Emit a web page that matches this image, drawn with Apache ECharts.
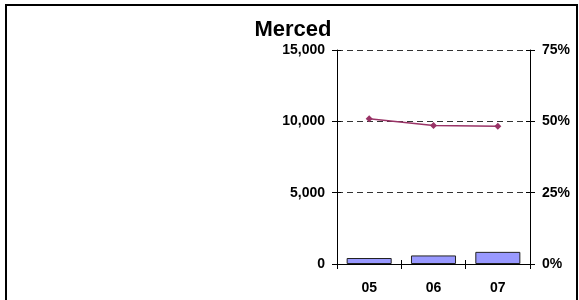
<!DOCTYPE html>
<html lang="en">
<head>
    <meta charset="utf-8">
    <title>Merced</title>
    <script src="https://cdn.jsdelivr.net/npm/echarts@6/dist/echarts.min.js"></script>
    <style>
        html, body { margin: 0; padding: 0; background: #fff; }
        #chart { width: 579px; height: 300px; }
    </style>
</head>
<body>
<div id="chart"></div>
<script>
    // data
    var years = ['05', '06', '07'];
    var countValues = [420, 600, 850];
    var shareValues = [50.9, 48.5, 48.3];

    var leftTicks = { min: 0, max: 15000, interval: 5000 };
    var rightTicks = { min: 0, max: 75, interval: 25 };

    var labelFont = {
        color: '#000',
        fontFamily: 'Liberation Sans, Arial, sans-serif',
        fontWeight: 'bold',
        fontSize: 14
    };

    function fmtCount(v) {
        return v.toLocaleString('en-US');
    }

    var chart = echarts.init(document.getElementById('chart'));
    chart.setOption({
        animation: false,
        title: {
            text: 'Merced',
            left: 288,
            textAlign: 'center',
            top: 14,
            textStyle: {
                color: '#000',
                fontFamily: 'Liberation Sans, Arial, sans-serif',
                fontWeight: 'bold',
                fontSize: 22
            }
        },
        graphic: [{
            type: 'rect',
            shape: { x: 6, y: 5, width: 571, height: 330 },
            style: { fill: 'none', stroke: '#000', lineWidth: 2 },
            silent: true
        }],
        grid: { left: 337, right: 49, top: 50, bottom: 36 },
        xAxis: [{
            type: 'category',
            data: years,
            axisLine: { lineStyle: { color: '#000', width: 1 } },
            axisTick: { show: true, length: 5, lineStyle: { color: '#000' } },
            axisLabel: Object.assign({ margin: 17 }, labelFont)
        }, {
            type: 'category',
            data: years,
            position: 'bottom',
            axisLine: { show: false },
            axisTick: { show: true, inside: true, length: 4, lineStyle: { color: '#000' } },
            axisLabel: { show: false }
        }],
        yAxis: [{
            type: 'value',
            position: 'left',
            min: leftTicks.min,
            max: leftTicks.max,
            interval: leftTicks.interval,
            axisLine: { show: true, lineStyle: { color: '#000', width: 1 } },
            axisTick: { show: true, length: 5, lineStyle: { color: '#000' } },
            axisLabel: Object.assign({ margin: 12, formatter: fmtCount }, labelFont),
            splitLine: { show: true, lineStyle: { color: '#333', type: [6, 4], width: 1 } }
        }, {
            type: 'value',
            position: 'right',
            min: rightTicks.min,
            max: rightTicks.max,
            interval: rightTicks.interval,
            axisLine: { show: true, lineStyle: { color: '#000', width: 1 } },
            axisTick: { show: true, length: 5, lineStyle: { color: '#000' } },
            axisLabel: Object.assign({ margin: 12, formatter: '{value}%' }, labelFont),
            splitLine: { show: false }
        }, {
            type: 'value',
            position: 'left',
            min: leftTicks.min,
            max: leftTicks.max,
            interval: leftTicks.interval,
            axisLine: { show: false },
            axisTick: { show: true, inside: true, length: 4, lineStyle: { color: '#000' } },
            axisLabel: { show: false },
            splitLine: { show: false }
        }, {
            type: 'value',
            position: 'right',
            min: rightTicks.min,
            max: rightTicks.max,
            interval: rightTicks.interval,
            axisLine: { show: false },
            axisTick: { show: true, inside: true, length: 4, lineStyle: { color: '#000' } },
            axisLabel: { show: false },
            splitLine: { show: false }
        }],
        series: [
            {
                name: 'count',
                type: 'bar',
                xAxisIndex: 0,
                yAxisIndex: 0,
                data: countValues,
                barWidth: '70%',
                itemStyle: { color: '#9999FF', borderColor: '#222', borderWidth: 1 }
            },
            {
                name: 'share',
                type: 'line',
                xAxisIndex: 0,
                yAxisIndex: 1,
                data: shareValues,
                symbol: 'diamond',
                symbolSize: 7,
                lineStyle: { color: '#993366', width: 1.5 },
                itemStyle: { color: '#993366' }
            }
        ]
    });
</script>
</body>
</html>
